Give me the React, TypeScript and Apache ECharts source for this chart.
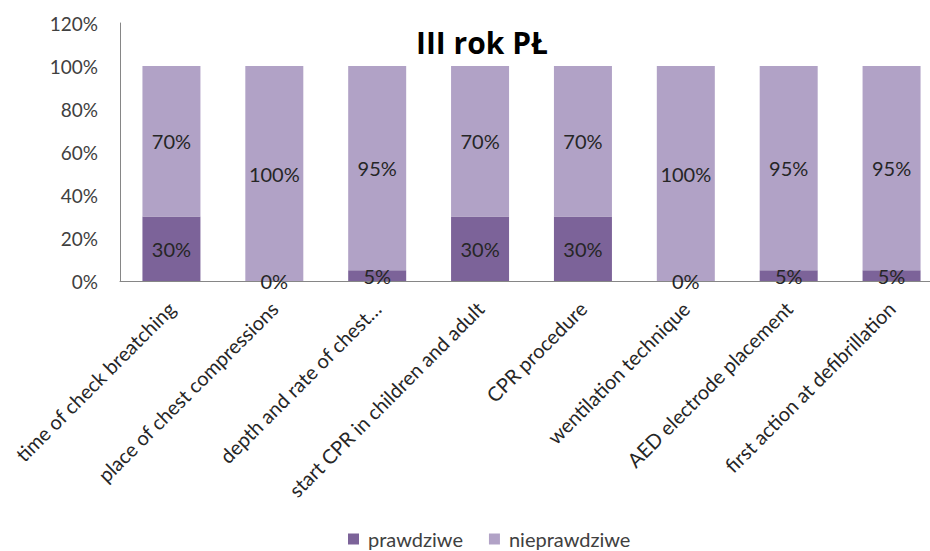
import React, { useEffect, useRef } from "react";
import * as echarts from "echarts";

const categories = [
  "time of check breatching",
  "place of chest compressions",
  "depth and rate of chest…",
  "start CPR in children and adult",
  "CPR procedure",
  "wentilation technique",
  "AED electrode placement",
  "first action at defibrillation",
];
const prawdziwe = [30, 0, 5, 30, 30, 0, 5, 5];
const nieprawdziwe = [70, 100, 95, 70, 70, 100, 95, 95];
const seriesNames = ["prawdziwe", "nieprawdziwe"];
const titleText = "III rok PŁ";

const FONT = "Lato, 'Open Sans', sans-serif";

export default function App() {
  const ref = useRef<HTMLDivElement>(null);

  useEffect(() => {
    document.body.style.margin = "0";
    if (!ref.current) return;
    const chart = echarts.init(ref.current, null, { renderer: "svg" });
    const label = {
      show: true,
      position: "inside" as const,
      formatter: (p: any) => `${p.value}%`,
      color: "#262626",
      fontSize: 20,
      fontFamily: FONT,
    };
    chart.setOption({
      animation: false,
      backgroundColor: "#ffffff",
      title: {
        text: titleText,
        left: 411,
        top: 22,
        textStyle: { fontSize: 30, fontWeight: "bold", color: "#000", fontFamily: "'Open Sans', sans-serif" },
      },
      legend: {
        data: seriesNames,
        top: 524,
        left: 343,
        icon: "rect",
        itemWidth: 11,
        itemHeight: 11,
        itemGap: 26,
        textStyle: { fontSize: 20, color: "#404040", fontFamily: FONT, padding: [0, 0, 0, 4] },
      },
      grid: {
        left: 120,
        top: 23,
        width: 823,
        height: 258,
        outerBoundsMode: "none",
      },
      xAxis: {
        type: "category",
        data: categories,
        axisLine: { lineStyle: { color: "#868686", width: 1 } },
        axisTick: { show: false },
        axisLabel: {
          rotate: 45,
          interval: 0,
          margin: 24,
          fontSize: 20,
          color: "#262626",
          fontFamily: FONT,
        },
      },
      yAxis: {
        type: "value",
        min: 0,
        max: 120,
        interval: 20,
        axisLine: { show: true, lineStyle: { color: "#868686", width: 1 } },
        axisTick: { show: false },
        splitLine: { show: false },
        axisLabel: {
          formatter: "{value}%",
          fontSize: 19,
          color: "#404040",
          margin: 22,
          fontFamily: FONT,
        },
      },
      series: [
        {
          name: seriesNames[0],
          type: "bar",
          stack: "total",
          data: prawdziwe,
          barWidth: 58,
          itemStyle: { color: "#7C6399" },
          label,
        },
        {
          name: seriesNames[1],
          type: "bar",
          stack: "total",
          data: nieprawdziwe,
          barWidth: 58,
          itemStyle: { color: "#B1A2C6" },
          label,
        },
      ],
    });
    return () => chart.dispose();
  }, []);

  return <div ref={ref} style={{ width: 930, height: 551 }} />;
}
